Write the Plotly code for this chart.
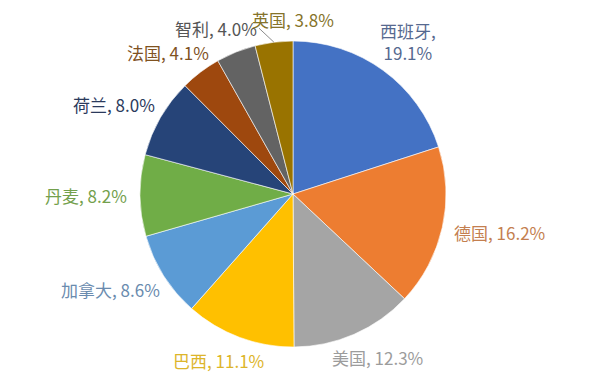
import math
import plotly.graph_objects as go

countries = ["西班牙", "德国", "美国", "巴西", "加拿大", "丹麦", "荷兰", "法国", "智利", "英国"]
shares = [19.1, 16.2, 12.3, 11.1, 8.6, 8.2, 8.0, 4.1, 4.0, 3.8]
slice_colors = ["#4472C4", "#ED7D31", "#A5A5A5", "#FFC000", "#5B9BD5",
                "#70AD47", "#264478", "#9E480E", "#636363", "#997300"]
label_colors = ["#56698F", "#C47F50", "#9C9C9C", "#DDB52A", "#6A8BAE",
                "#73A04C", "#2B3A5C", "#80521F", "#555555", "#85732A"]

# the page body has an 8px margin: the figure is drawn 8px smaller, shifted by 8px
OFF = 8
W, H = 592 - OFF, 388 - OFF
CX, CY, R = 293, 194, 153          # pie centre / radius in window pixels
FS = 17
GAP = 15

def to_paper(px, py):
    return (px - OFF) / W, 1 - (py - OFF) / H

fig = go.Figure()
x0, y1 = to_paper(CX - R, CY - R)
x1, y0 = to_paper(CX + R, CY + R)
fig.add_trace(go.Pie(
    labels=countries, values=shares, sort=False, direction="clockwise", rotation=0,
    marker=dict(colors=slice_colors, line=dict(color="rgba(255,255,255,0.6)", width=1)),
    textinfo="none", hoverinfo="label+value", domain=dict(x=[x0, x1], y=[y0, y1]),
    showlegend=False, automargin=False,
))

def char_w(c):
    if ord(c) > 0x2E80:
        return 1.0
    return {",": 0.26, " ": 0.23, ".": 0.26, "%": 0.82}.get(c, 0.51)

def text_size(lines):
    w = max(sum(char_w(c) for c in ln) for ln in lines) * FS
    h = len(lines) * FS * 1.2
    return w, h

total = sum(shares)
cum = 0.0
boxes = []
for i, (name, val) in enumerate(zip(countries, shares)):
    start = 360 * cum / total
    end = 360 * (cum + val) / total
    mid = (start + end) / 2
    cum += val
    lines = [f"{name},", f"{val:.1f}%"] if i == 0 else [f"{name}, {val:.1f}%"]
    w, h = text_size(lines)

    def place(theta):
        t = math.radians(theta)
        px = CX + (R + GAP) * math.sin(t) + w / 2 * math.sin(t)
        py = CY - (R + GAP) * math.cos(t) - h / 2 * math.cos(t)
        return px, max(py, OFF + 12)

    def overlaps(px, py):
        for (bx0, by0, bx1, by1) in boxes:
            if px - w / 2 < bx1 and px + w / 2 > bx0 and py - h / 2 < by1 and py + h / 2 > by0:
                return True
        return False

    theta = mid
    px, py = place(theta)
    moved = False
    while overlaps(px, py) and theta < end:
        theta = min(theta + 1, end)
        px, py = place(theta)
        moved = True
    boxes.append((px - w / 2, py - h / 2, px + w / 2, py + h / 2))

    ax, ay = to_paper(px, py)
    fig.add_annotation(
        x=ax, y=ay, xref="paper", yref="paper", xanchor="center", yanchor="middle",
        text="<br>".join(lines), showarrow=False, align="center",
        font=dict(family="Noto Sans CJK SC", size=FS, color=label_colors[i]),
    )
    if moved:
        t = math.radians(mid)
        ex, ey = CX + R * math.sin(t), CY - R * math.cos(t)
        sx, sy = px - w / 2 + 5, py + h / 2 - 2
        lx0, ly0 = to_paper(sx, sy)
        lx1, ly1 = to_paper(ex, ey)
        fig.add_shape(type="line", xref="paper", yref="paper", x0=lx0, y0=ly0, x1=lx1, y1=ly1,
                      line=dict(color="#8C8C8C", width=1))

fig.update_layout(width=W, height=H, margin=dict(l=0, r=0, t=0, b=0, autoexpand=False),
                  paper_bgcolor="white", plot_bgcolor="white", showlegend=False)
fig.write_html("out.html")
